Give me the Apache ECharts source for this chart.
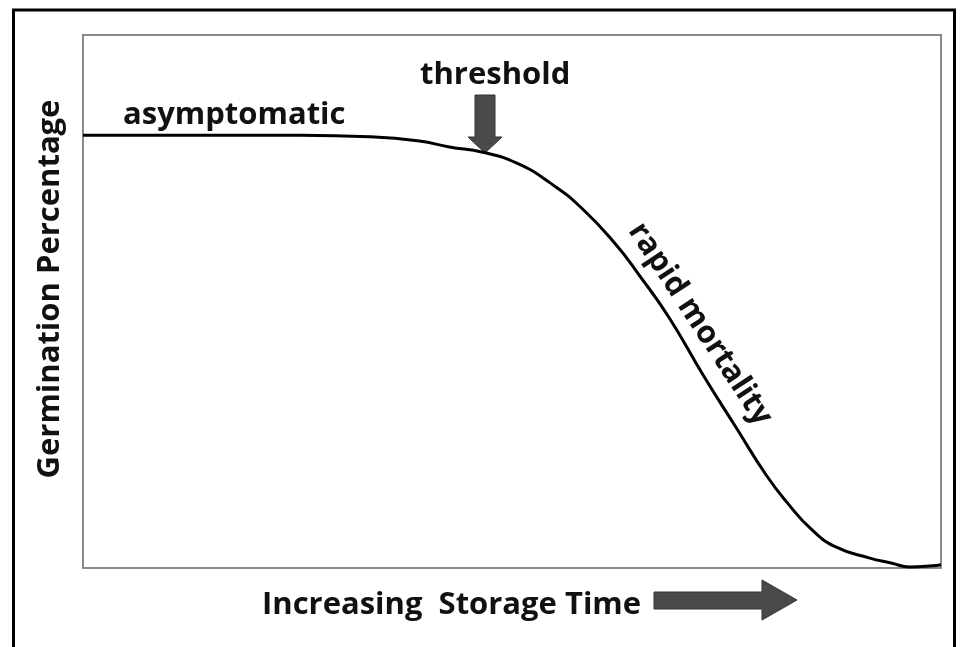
<!DOCTYPE html>
<html lang="en">
<head>
    <meta charset="UTF-8">
    <title>Germination Percentage vs Storage Time</title>
    <script src="https://cdn.jsdelivr.net/npm/echarts@6/dist/echarts.min.js"></script>
    <style>
        html, body { margin: 0; padding: 0; background: #fff; }
        #chart { width: 961px; height: 647px; }
    </style>
</head>
<body>
<div id="chart"></div>
<script>
    // storage time (relative, 0-100) and germination (relative, 0-100)
    const storageTime = [0, 13.6, 25.3, 33.4, 39.2, 42.7, 46.6, 50.5, 54.4, 58.2, 62.2, 64.8,
        68.3, 72.2, 76.1, 79.6, 82.0, 85.0, 87.8, 91.6, 94.3, 96.3, 99.0, 100];
    const germination = [81.2, 81.2, 81.2, 80.9, 80.1, 79.0, 78.0, 76.0, 72.3, 67.4, 60.5, 55.0,
        47.0, 36.4, 26.4, 17.5, 12.4, 7.1, 3.9, 1.9, 0.9, 0.2, 0.4, 0.6];

    const xTitle = 'Increasing  Storage Time';
    const yTitle = 'Germination Percentage';
    const labels = ['asymptomatic', 'threshold', 'rapid mortality'];

    const font = 'bold 31px "Open Sans", "Noto Sans", sans-serif';
    const ink = '#111';
    const arrowGrey = '#4a4a4a';

    let points = storageTime.map(function (t, i) { return [t, germination[i]]; });

    let myChart = echarts.init(document.getElementById('chart'));
    let option = {
        animation: false,
        backgroundColor: '#fff',
        grid: {
            left: 83, top: 35, width: 858, height: 533,
            show: true,
            borderColor: '#8a8a8a',
            borderWidth: 2
        },
        xAxis: {
            type: 'value', min: 0, max: 100,
            axisLine: {show: false}, axisTick: {show: false},
            axisLabel: {show: false}, splitLine: {show: false}
        },
        yAxis: {
            type: 'value', min: 0, max: 100,
            axisLine: {show: false}, axisTick: {show: false},
            axisLabel: {show: false}, splitLine: {show: false}
        },
        series: [{
            type: 'line',
            data: points,
            smooth: 0.5,
            symbol: 'none',
            lineStyle: {color: '#000', width: 3}
        }],
        graphic: [
            // outer frame (bottom edge runs off the picture)
            {type: 'rect', shape: {x: 13.5, y: 10, width: 941, height: 680},
                style: {fill: 'none', stroke: '#000', lineWidth: 3}, silent: true},
            {type: 'text', x: 50, y: 289, rotation: Math.PI / 2,
                style: {text: yTitle, font: font, fill: ink, align: 'center', verticalAlign: 'middle'}},
            {type: 'text', x: 262, y: 605,
                style: {text: xTitle, font: font, fill: ink, align: 'left', verticalAlign: 'middle'}},
            // big arrow after the x title
            {type: 'polygon', shape: {points: [[654, 592], [762, 592], [762, 580], [797, 600],
                        [762, 620], [762, 609], [654, 609]]},
                style: {fill: arrowGrey, stroke: '#333', lineWidth: 1}},
            {type: 'text', x: 123, y: 115,
                style: {text: labels[0], font: font, fill: ink, align: 'left', verticalAlign: 'middle'}},
            {type: 'text', x: 420, y: 75,
                style: {text: labels[1], font: font, fill: ink, align: 'left', verticalAlign: 'middle'}},
            // threshold arrow
            {type: 'polygon', shape: {points: [[475, 95], [495, 95], [495, 137], [502, 137],
                        [485, 153], [468, 137], [475, 137]]},
                style: {fill: arrowGrey, stroke: '#333', lineWidth: 1}},
            {type: 'text', x: 700, y: 324, rotation: -0.988,
                style: {text: labels[2], font: font, fill: ink, align: 'center', verticalAlign: 'middle'}}
        ]
    };
    myChart.setOption(option);
</script>
</body>
</html>
